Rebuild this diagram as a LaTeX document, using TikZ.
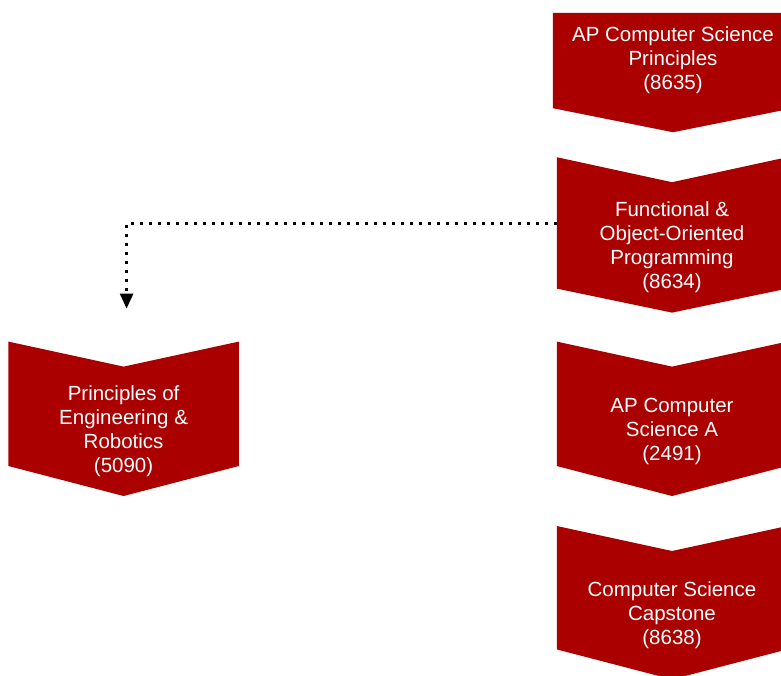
\documentclass[tikz,border=0pt]{standalone}
\usepackage{fontspec}
\setmainfont{Liberation Sans}
\usepackage{xcolor}
\usetikzlibrary{positioning,arrows.meta}
\definecolor{csred}{RGB}{170,0,0}
\pgfdeclarelayer{background}
\pgfsetlayers{background,main}

\begin{document}
\begin{tikzpicture}[x=1pt,y=-1pt,
        box/.style={minimum width=230pt,inner sep=0pt,text=white,align=center,
                font=\fontsize{20.5}{24}\selectfont},
        course/.style={box,minimum height=130pt,
                append after command={\pgfextra{\begin{pgfonlayer}{background}
                                \fill[csred] ([yshift=25pt]\tikzlastnode.north west) -- (\tikzlastnode.north)
                                -- ([yshift=25pt]\tikzlastnode.north east) -- ([yshift=#1]\tikzlastnode.south east)
                                -- (\tikzlastnode.south) -- ([yshift=#1]\tikzlastnode.south west) -- cycle;
                            \end{pgfonlayer}}}},
        course/.default=24pt,
        first/.style={box,minimum width=240pt,minimum height=95pt,
                append after command={\pgfextra{\begin{pgfonlayer}{background}
                                \fill[csred] (\tikzlastnode.north west) -- (\tikzlastnode.north east)
                                -- (\tikzlastnode.south east) -- ([yshift=-24pt]\tikzlastnode.south)
                                -- (\tikzlastnode.south west) -- cycle;
                            \end{pgfonlayer}}}},
        option/.style={line width=2.5pt,dash pattern=on 2.5pt off 6.5pt,
                -{Triangle[width=13pt,length=15pt]}}]
    \useasboundingbox (0,0) rectangle (781,675);
    \node[first] (csp) at (673,60.5) {AP Computer Science\\ Principles\\ (8635)};
    \node[course,below=74pt of csp,xshift=-1pt] (fop) {Functional \&\\ Object-Oriented\\ Programming\\ (8634)};
    \node[course=30pt,below=54pt of fop,minimum height=129pt] (csa) {AP Computer\\ Science A\\ (2491)};
    \node[course=30pt,below=55pt of csa,minimum height=128pt] (cap) {Computer Science\\ Capstone\\ (8638)};
    \node[course=30pt,left=318pt of csa,minimum height=129pt] (poe) {Principles of\\ Engineering \&\\ Robotics\\ (5090)};
    %
    \draw[option] ([yshift=24pt]fop.west) -| ([xshift=3pt,yshift=58pt]poe.north);
\end{tikzpicture}
\end{document}
